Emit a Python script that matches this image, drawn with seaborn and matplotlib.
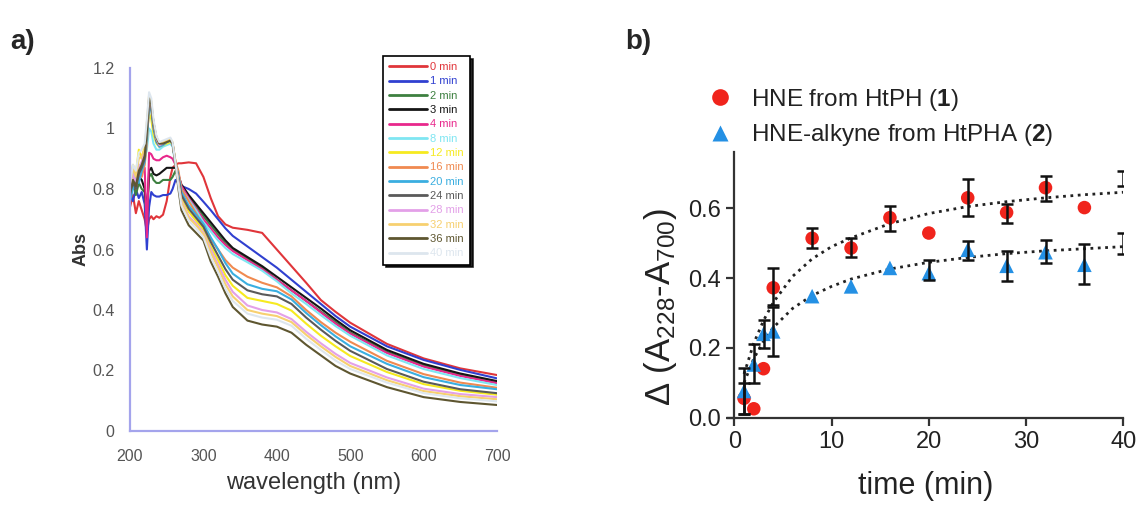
import numpy as np
import pandas as pd
import matplotlib
matplotlib.use('Agg')
import matplotlib.pyplot as plt
import seaborn as sns
from matplotlib.lines import Line2D

sns.set_theme(style='white')
plt.rcParams['font.family'] = ['Liberation Sans', 'DejaVu Sans']
plt.rcParams['mathtext.fontset'] = 'custom'
plt.rcParams['mathtext.rm'] = 'Liberation Sans'
plt.rcParams['mathtext.bf'] = 'Liberation Sans:bold'
plt.rcParams['mathtext.it'] = 'Liberation Sans:italic'

# ---------------- panel a data (UV-vis spectra) ----------------
wavelength = [200, 204, 208, 212, 216, 220, 223, 226, 229, 232, 236, 240, 245, 250, 255, 258, 262,
              266, 270, 280, 290, 300, 310, 320, 330, 340, 360, 380, 400, 420, 440, 460, 480, 500,
              550, 600, 650, 700]
time_labels = ['0 min', '1 min', '2 min', '3 min', '4 min', '8 min', '12 min', '16 min',
               '20 min', '24 min', '28 min', '32 min', '36 min', '40 min']
line_colors = ['#e0353a', '#3040d0', '#3d8040', '#151515', '#e8288c', '#7fe6f2', '#f6ea20',
               '#f08a50', '#3aaee0', '#5a5a5a', '#e3a0e8', '#f7d070', '#5e5630', '#dde6ee']

abs_0 = [0.74, 0.78, 0.72, 0.76, 0.73, 0.70, 0.66, 0.70, 0.71, 0.70, 0.71, 0.705, 0.715, 0.76, 0.84, 0.87, 0.88,
         0.885, 0.885, 0.888, 0.885, 0.84, 0.77, 0.71, 0.683, 0.672, 0.665, 0.655, 0.60, 0.545, 0.49, 0.433, 0.394, 0.358,
         0.288, 0.24, 0.207, 0.185]
abs_1 = [0.78, 0.76, 0.80, 0.77, 0.79, 0.75, 0.60, 0.74, 0.79, 0.78, 0.775, 0.775, 0.78, 0.78, 0.785, 0.80, 0.83,
         0.82, 0.81, 0.80, 0.785, 0.758, 0.73, 0.70, 0.67, 0.645, 0.61, 0.575, 0.54, 0.50, 0.46, 0.42, 0.38, 0.345,
         0.28, 0.235, 0.202, 0.174]
abs_2 = [0.80, 0.83, 0.78, 0.82, 0.80, 0.79, 0.70, 0.84, 0.85, 0.83, 0.82, 0.82, 0.83, 0.83, 0.83, 0.84, 0.86,
         0.84, 0.80, 0.775, 0.745, 0.71, 0.68, 0.65, 0.62, 0.60, 0.57, 0.54, 0.50, 0.465, 0.43, 0.395, 0.36, 0.325,
         0.262, 0.217, 0.186, 0.16]
abs_3 = [0.79, 0.82, 0.80, 0.84, 0.83, 0.80, 0.72, 0.86, 0.87, 0.85, 0.845, 0.85, 0.86, 0.87, 0.87, 0.87, 0.87,
         0.845, 0.815, 0.78, 0.75, 0.72, 0.69, 0.66, 0.63, 0.605, 0.575, 0.545, 0.51, 0.475, 0.44, 0.405, 0.368, 0.333,
         0.268, 0.222, 0.19, 0.165]
abs_4 = [0.82, 0.80, 0.85, 0.83, 0.86, 0.87, 0.64, 0.92, 0.915, 0.90, 0.895, 0.895, 0.905, 0.91, 0.905, 0.90, 0.88,
         0.85, 0.81, 0.77, 0.735, 0.70, 0.67, 0.64, 0.615, 0.595, 0.565, 0.535, 0.50, 0.465, 0.43, 0.392, 0.355, 0.322,
         0.258, 0.213, 0.182, 0.158]
abs_8 = [0.80, 0.86, 0.83, 0.88, 0.85, 0.90, 0.93, 1.00, 0.99, 0.95, 0.93, 0.93, 0.94, 0.945, 0.95, 0.94, 0.88,
         0.85, 0.80, 0.765, 0.73, 0.69, 0.66, 0.63, 0.605, 0.585, 0.558, 0.53, 0.495, 0.455, 0.42, 0.383, 0.347, 0.315,
         0.25, 0.205, 0.175, 0.152]
abs_12 = [0.82, 0.88, 0.85, 0.93, 0.90, 0.94, 0.98, 1.05, 1.03, 0.98, 0.95, 0.94, 0.945, 0.95, 0.955, 0.95, 0.89,
          0.83, 0.77, 0.725, 0.695, 0.665, 0.61, 0.565, 0.515, 0.48, 0.44, 0.43, 0.42, 0.398, 0.355, 0.315, 0.28, 0.248,
          0.195, 0.155, 0.133, 0.12]
abs_16 = [0.78, 0.84, 0.80, 0.86, 0.84, 0.88, 0.95, 1.08, 1.07, 1.00, 0.96, 0.94, 0.95, 0.955, 0.96, 0.95, 0.89,
          0.86, 0.80, 0.76, 0.72, 0.68, 0.635, 0.60, 0.565, 0.54, 0.51, 0.49, 0.475, 0.445, 0.40, 0.36, 0.325, 0.295,
          0.232, 0.188, 0.16, 0.143]
abs_20 = [0.76, 0.80, 0.84, 0.82, 0.86, 0.89, 0.97, 1.07, 1.06, 1.00, 0.955, 0.94, 0.945, 0.955, 0.96, 0.95, 0.885,
          0.845, 0.79, 0.745, 0.715, 0.685, 0.64, 0.60, 0.555, 0.52, 0.485, 0.47, 0.462, 0.435, 0.39, 0.35, 0.313, 0.28,
          0.222, 0.178, 0.152, 0.138]
abs_24 = [0.79, 0.82, 0.80, 0.85, 0.87, 0.90, 0.99, 1.09, 1.07, 1.01, 0.96, 0.945, 0.95, 0.96, 0.965, 0.95, 0.885,
          0.835, 0.78, 0.735, 0.705, 0.675, 0.625, 0.58, 0.535, 0.50, 0.465, 0.452, 0.445, 0.42, 0.375, 0.335, 0.298, 0.265,
          0.205, 0.163, 0.138, 0.125]
abs_28 = [0.80, 0.85, 0.82, 0.87, 0.89, 0.92, 1.00, 1.10, 1.08, 1.02, 0.965, 0.945, 0.95, 0.96, 0.965, 0.95, 0.885,
          0.825, 0.76, 0.71, 0.685, 0.655, 0.60, 0.55, 0.50, 0.46, 0.415, 0.40, 0.392, 0.37, 0.328, 0.29, 0.255, 0.225,
          0.177, 0.14, 0.122, 0.112]
abs_32 = [0.81, 0.87, 0.84, 0.90, 0.91, 0.93, 1.02, 1.11, 1.09, 1.02, 0.97, 0.95, 0.955, 0.96, 0.965, 0.955, 0.885,
          0.82, 0.755, 0.705, 0.68, 0.65, 0.59, 0.54, 0.485, 0.445, 0.40, 0.388, 0.38, 0.36, 0.318, 0.28, 0.245, 0.215,
          0.168, 0.132, 0.115, 0.105]
abs_36 = [0.78, 0.83, 0.81, 0.86, 0.88, 0.91, 0.99, 1.10, 1.08, 1.02, 0.97, 0.95, 0.95, 0.955, 0.96, 0.95, 0.88,
          0.80, 0.73, 0.68, 0.655, 0.63, 0.56, 0.51, 0.455, 0.41, 0.365, 0.352, 0.345, 0.325, 0.285, 0.25, 0.215, 0.19,
          0.145, 0.112, 0.096, 0.086]
abs_40 = [0.82, 0.88, 0.86, 0.92, 0.93, 0.95, 1.03, 1.12, 1.10, 1.03, 0.975, 0.955, 0.96, 0.965, 0.97, 0.955, 0.885,
          0.81, 0.745, 0.695, 0.67, 0.64, 0.575, 0.525, 0.47, 0.43, 0.388, 0.375, 0.368, 0.348, 0.305, 0.268, 0.233, 0.205,
          0.16, 0.125, 0.108, 0.098]
spectra = [abs_0, abs_1, abs_2, abs_3, abs_4, abs_8, abs_12, abs_16, abs_20, abs_24, abs_28, abs_32, abs_36, abs_40]

# ---------------- panel b data (kinetics) ----------------
hne_t = [1, 2, 3, 4, 8, 12, 16, 20, 24, 28, 32, 36]
hne_val = [0.055, 0.025, 0.14, 0.372, 0.514, 0.486, 0.573, 0.529, 0.63, 0.588, 0.659, 0.602]
hne_err_t = [1, 4, 8, 12, 16, 24, 28, 32, 40]
hne_err_mid = [0.055, 0.375, 0.515, 0.487, 0.57, 0.63, 0.585, 0.657, 0.686]
hne_err_half = [0.045, 0.053, 0.029, 0.028, 0.036, 0.053, 0.026, 0.037, 0.022]
hne_fit_t = [1, 2, 3, 4, 6, 8, 10, 12, 16, 20, 24, 28, 32, 36, 40]
hne_fit_val = [0.125, 0.213, 0.278, 0.33, 0.405, 0.455, 0.49, 0.515, 0.556, 0.585, 0.605, 0.619, 0.63, 0.639, 0.646]

alk_t = [1, 2, 3, 4, 8, 12, 16, 20, 24, 28, 32, 36]
alk_val = [0.076, 0.152, 0.24, 0.247, 0.348, 0.376, 0.429, 0.414, 0.481, 0.435, 0.474, 0.438]
alk_err_t = [1, 2, 3, 4, 20, 24, 28, 32, 36, 40]
alk_err_mid = [0.076, 0.155, 0.24, 0.247, 0.424, 0.479, 0.434, 0.475, 0.44, 0.50]
alk_err_half = [0.065, 0.057, 0.04, 0.07, 0.029, 0.026, 0.043, 0.033, 0.058, 0.03]
alk_fit_t = [1, 2, 3, 4, 6, 8, 10, 12, 16, 20, 24, 28, 32, 36, 40]
alk_fit_val = [0.10, 0.169, 0.219, 0.258, 0.313, 0.35, 0.376, 0.397, 0.426, 0.445, 0.459, 0.47, 0.478, 0.484, 0.49]

series_names = ['HNE from HtPH ($\\mathbf{1}$)', 'HNE-alkyne from HtPHA ($\\mathbf{2}$)']

# ---------------- figure ----------------
fig = plt.figure(figsize=(11.41, 5.08), dpi=100)

# panel a
ax1 = fig.add_axes([130 / 1141, 1 - 431 / 508, 367 / 1141, 363 / 508])
rows = []
for lab, vals in zip(time_labels, spectra):
    for w, a in zip(wavelength, vals):
        rows.append((w, a, lab))
df_spec = pd.DataFrame(rows, columns=['wavelength', 'Abs', 'time'])
sns.lineplot(data=df_spec, x='wavelength', y='Abs', hue='time', hue_order=time_labels,
             palette=line_colors, estimator=None, sort=False, linewidth=1.5, legend=False, ax=ax1)
ax1.set_xlim(200, 700)
ax1.set_ylim(0, 1.2)
ax1.set_xticks([200, 300, 400, 500, 600, 700])
ax1.set_yticks([0, 0.2, 0.4, 0.6, 0.8, 1.0, 1.2])
ax1.set_yticklabels(['0', '0.2', '0.4', '0.6', '0.8', '1', '1.2'])
for s in ['top', 'right']:
    ax1.spines[s].set_visible(False)
for s in ['left', 'bottom']:
    ax1.spines[s].set_color('#a4a4ec')
    ax1.spines[s].set_linewidth(1.6)
ax1.tick_params(axis='both', length=0, labelsize=11.5, labelcolor='#555555')
ax1.tick_params(axis='x', pad=13)
ax1.tick_params(axis='y', pad=11)
ax1.set_xlabel('wavelength (nm)', fontsize=17, color='#333333', labelpad=6)
ax1.set_ylabel('Abs', fontsize=13, fontweight='bold', color='#333333', labelpad=2)
handles_a = [Line2D([0], [0], color=c, lw=2) for c in line_colors]
leg_a = ax1.legend(handles_a, time_labels, loc='upper left', bbox_to_anchor=(0.689, 1.033),
                   fontsize=8, labelcolor=line_colors, frameon=True, fancybox=False,
                   shadow={'color': 'black', 'alpha': 0.85}, handlelength=3.4,
                   handletextpad=0.3, labelspacing=0.39, borderpad=0.55, borderaxespad=0)
leg_a.get_frame().set_edgecolor('black')
leg_a.get_frame().set_linewidth(1.2)

# panel b
ax2 = fig.add_axes([728.5 / 1141, 1 - 417.5 / 508, (1123.3 - 728.5) / 1141, 265 / 508])
ax2.set_xlim(-0.6, 40.0)
ax2.set_ylim(0, 0.76)
sns.lineplot(x=hne_fit_t, y=hne_fit_val, color='#222222', linestyle=':', linewidth=2.0, ax=ax2, zorder=1)
sns.lineplot(x=alk_fit_t, y=alk_fit_val, color='#222222', linestyle=':', linewidth=2.0, ax=ax2, zorder=1)
sns.scatterplot(x=hne_t, y=hne_val, marker='o', s=95, color='#f0241c', edgecolor='none', ax=ax2, zorder=2)
sns.scatterplot(x=alk_t, y=alk_val, marker='^', s=110, color='#2490e4', edgecolor='none', ax=ax2, zorder=2)
ax2.errorbar(hne_err_t, hne_err_mid, yerr=hne_err_half, fmt='none', ecolor='#111111',
             elinewidth=1.8, capsize=4, capthick=1.8, zorder=3)
ax2.errorbar(alk_err_t, alk_err_mid, yerr=alk_err_half, fmt='none', ecolor='#111111',
             elinewidth=1.8, capsize=4, capthick=1.8, zorder=3)
ax2.set_xticks([0, 10, 20, 30, 40])
ax2.set_yticks([0.0, 0.2, 0.4, 0.6])
ax2.set_yticklabels(['0.0', '0.2', '0.4', '0.6'])
for s in ['top', 'right']:
    ax2.spines[s].set_visible(False)
ax2.spines['left'].set_position(('data', 0))
for s in ['left', 'bottom']:
    ax2.spines[s].set_color('#333333')
    ax2.spines[s].set_linewidth(1.6)
ax2.tick_params(axis='both', direction='out', length=6, width=1.6, color='#333333',
                labelsize=17, labelcolor='#222222', bottom=True, left=True)
ax2.set_xlabel('time (min)', fontsize=22, color='#222222', labelpad=13)
ax2.set_ylabel('$\\Delta$ (A$_{228}$-A$_{700}$)', fontsize=25, color='#222222')
ax2.yaxis.set_label_coords(-0.125, 0.415)

handles_b = [Line2D([0], [0], marker='o', color='none', markerfacecolor='#f0241c',
                    markeredgecolor='none', markersize=12),
             Line2D([0], [0], marker='^', color='none', markerfacecolor='#2490e4',
                    markeredgecolor='none', markersize=11)]
fig.legend(handles_b, series_names, loc='upper left', bbox_to_anchor=(708 / 1141, 1 - 87 / 508),
           frameon=False, fontsize=17.5, handlelength=1.0, handletextpad=0.75, labelspacing=0.38,
           borderpad=0, borderaxespad=0, labelcolor='#222222')

fig.text(10 / 1141, 1 - 42 / 508, 'a)', fontsize=20, fontweight='bold', va='center', ha='left')
fig.text(625 / 1141, 1 - 42 / 508, 'b)', fontsize=20, fontweight='bold', va='center', ha='left')

fig.savefig('out.png', dpi=100)
